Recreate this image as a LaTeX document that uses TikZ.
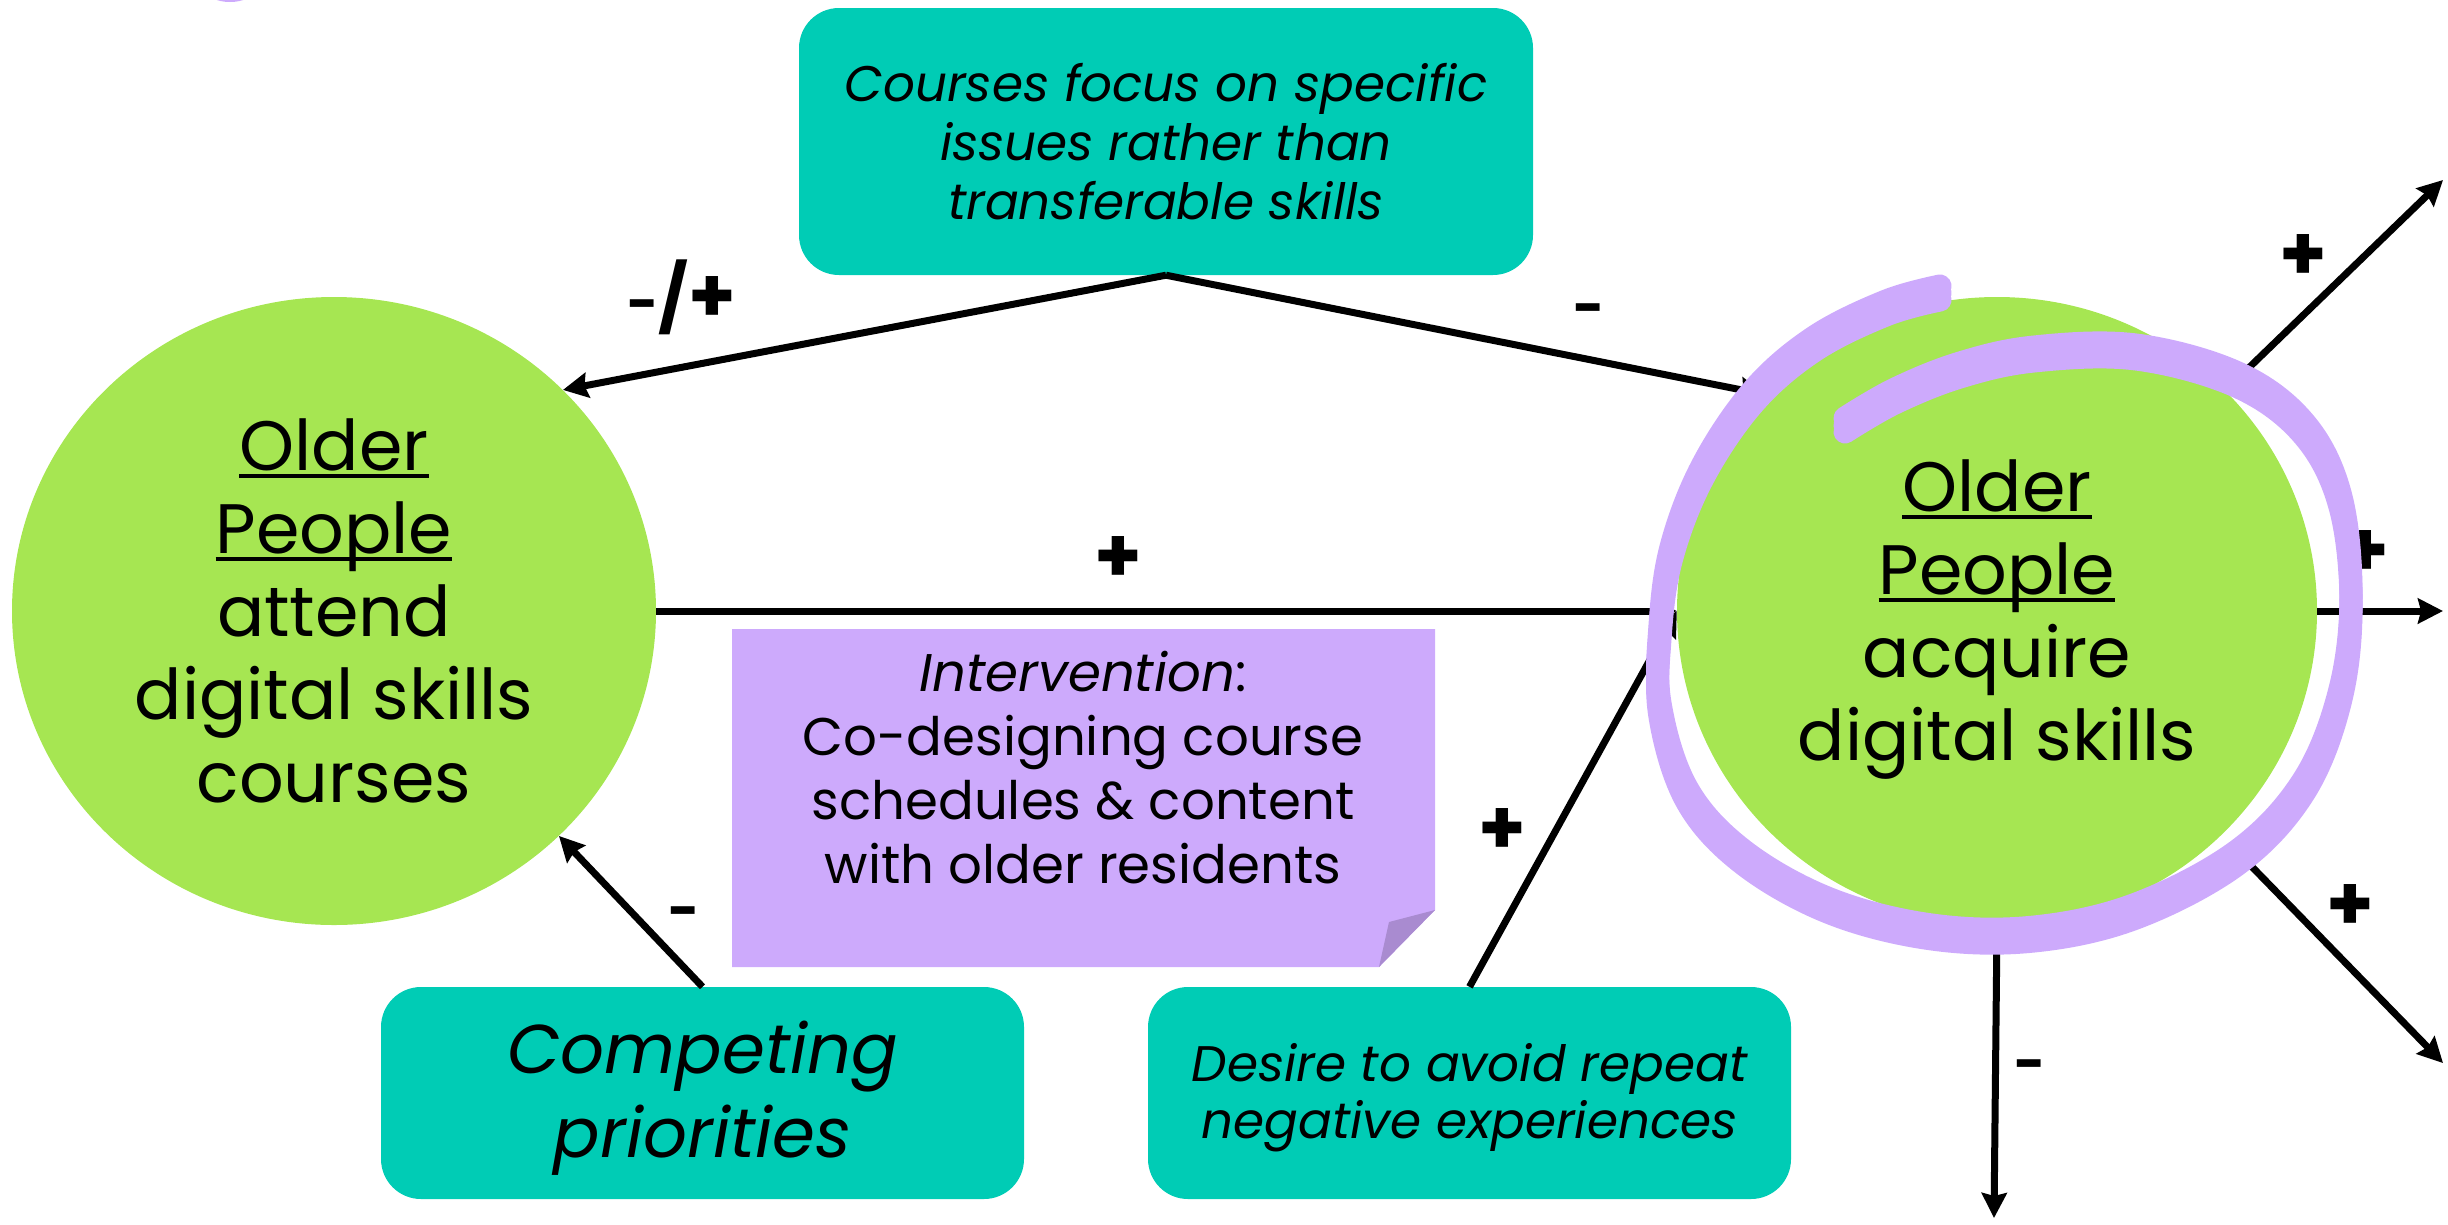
\documentclass[tikz,border=0pt]{standalone}
\usepackage{fontspec}
\setmainfont{Poppins}
\usetikzlibrary{arrows.meta,shapes.geometric}
\definecolor{cgreen}{HTML}{A6E652}
\definecolor{cteal}{HTML}{00CCB5}
\definecolor{cpurple}{HTML}{CDAAFC}
\definecolor{cfold}{HTML}{A98BD0}
\newcommand\ulx[1]{\setbox0\hbox{#1}\rlap{\rule[-0.1em]{\wd0}{0.05em}}\box0}
\begin{document}
\begin{tikzpicture}[x=1pt,y=-1pt,
  circ/.style={ellipse, fill=cgreen, inner sep=0pt, minimum width=644pt, minimum height=628pt,
     align=center, font=\fontsize{70}{83}\selectfont},
  ctext/.style={align=center, inner sep=0pt, font=\fontsize{70}{83}\selectfont},
  tbox/.style={rectangle, rounded corners=40pt, fill=cteal, inner sep=0pt, align=center,
     minimum width=643pt, minimum height=212pt},
  btext/.style={align=center, inner sep=0pt},
  conn/.style={line width=7pt, -{Stealth[length=25pt,width=25pt,inset=3pt]}},
  plbl/.style={inner sep=0pt, font=\fontsize{76}{76}\selectfont\bfseries},
  mlbl/.style={inner sep=0pt, font=\fontsize{54}{54}\selectfont\bfseries},
  ring/.style={cpurple, line width=23pt, line cap=round, line join=round}]
\useasboundingbox (0,0) rectangle (2448,1224);
% tiny purple sliver at top
\begin{scope}
\clip (0,0) rectangle (2448,1224);
\fill[cpurple] (230,-10) ellipse (24pt and 12pt);
\end{scope}
% circles
\node[circ] (L) at (334,611) {\ulx{Older}\\ \ulx{People}\\ attend\\ digital skills\\ courses};
\node[circ, minimum width=640pt, minimum height=628pt] (R) at (1997,611) {};
\node[ctext] (Rt) at (1997,620) {\ulx{Older}\\ \ulx{People}\\ acquire\\ digital skills};
% boxes
\node[tbox, minimum width=734pt, minimum height=267pt, font=\fontsize{50}{59}\selectfont\itshape] (T) at (1166,141.5)
  {Courses focus on specific\\ issues rather than\\ transferable skills};
\node[tbox] (C) at (702.5,1093) {};
\node[btext, font=\fontsize{69}{84}\selectfont\itshape] (Ct) at (702.5,1098) {Competing\\ priorities};
\node[tbox] (D) at (1469.5,1093) {};
\node[btext, font=\fontsize{50}{57}\selectfont\itshape] (Dt) at (1469.5,1098)
  {Desire to avoid repeat\\ negative experiences};
% sticky note
\fill[cpurple] (732,629) -- (1435,629) -- (1435,910) -- (1379,967) -- (732,967) -- cycle;
\fill[cfold] (1435,910) -- (1389,922) -- (1379,967) -- cycle;
\node[btext, font=\fontsize{53}{64}\selectfont] (N) at (1083,768)
  {\textit{Intervention}:\\ Co-designing course\\ schedules \& content\\ with older residents};
% free ends
\coordinate (t1) at (2443,180);
\coordinate (t2) at (2443,611);
\coordinate (t3) at (2443,1063);
\coordinate (t4) at (1994,1218);
% connectors
\draw[conn] (T.south) -- (L.44);
\draw[conn] (T.south) -- (R.137);
\draw[conn] (L.east) -- (R.west);
\draw[conn] (C.north) -- (L.-45);
\draw[conn] (D.north) -- (R.west);
\draw[conn, shorten <=14pt] (R.44) -- (t1);
\draw[conn] (R.east) -- (t2);
\draw[conn, shorten <=18pt] (R.-45) -- (t3);
\draw[conn] (R.south) -- (t4);
% labels
\node[mlbl] (l1) at (682,297) {-{\fontsize{66}{66}\selectfont/}{\fontsize{76}{76}\selectfont+}};
\node[mlbl] (l2) at (1589,315) {-};
\node[plbl] (l3) at (1118,559) {+};
\node[plbl] (l4) at (2303,258) {+};
\node[plbl] (l5) at (2365,553) {+};
\node[plbl] (l6) at (2350,907) {+};
\node[mlbl] (l7) at (2030,1071) {-};
\node[mlbl] (l8) at (684,918) {-};
\node[plbl] (l9) at (1502,831) {+};
% hand-drawn highlight ring (broad-nib marker: thicker where horizontal)
\foreach \dy in {-7,0,7}{
\draw[ring, yshift=\dy pt] plot[smooth, tension=0.6] coordinates {
 (1940,293) (1886,308) (1814,344) (1753,397) (1702,473) (1671,554) (1660,632)
 (1660,710) (1687,795) (1743,857) (1830,906) (1932,932) (2034,934) (2136,911)
 (2238,857) (2304,786) (2340,696) (2351,600) (2340,500) (2304,429) (2238,380)
 (2136,352) (2034,354) (1960,370) (1895,396) (1845,425)};
}
\end{tikzpicture}
\end{document}
